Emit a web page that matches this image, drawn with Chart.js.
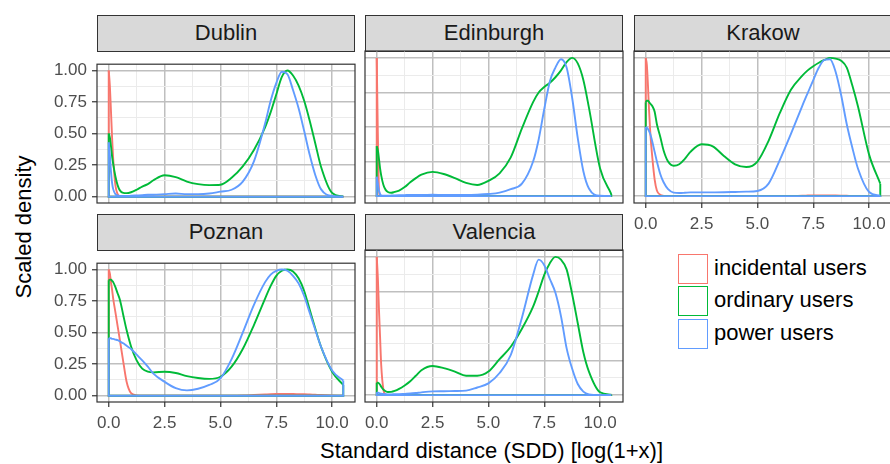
<!DOCTYPE html>
<html>
<head>
<meta charset="utf-8">
<script src="https://cdn.jsdelivr.net/npm/chart.js@4.4.1/dist/chart.umd.min.js"></script>
<style>
  body { margin: 0; width: 890px; height: 464px; background: #fff; position: relative; overflow: hidden;
         font-family: "Liberation Sans", Arial, sans-serif; }
  canvas { position: absolute; }
  .strip { position: absolute; box-sizing: border-box; height: 37px; background: #d9d9d9;
           border: 1.2px solid #333; color: #1a1a1a; font-size: 22px; text-align: center; line-height: 34px; }
  .title { position: absolute; color: #000; font-size: 22px; white-space: nowrap; }
  .key { position: absolute; left: 678px; width: 30px; height: 30px; box-sizing: border-box; border: 1.8px solid; background: #fff; }
  .lab { position: absolute; left: 714px; font-size: 22px; color: #000; line-height: 30px; white-space: nowrap; }
</style>
</head>
<body>
<div class="title" style="left:320px;top:438px">Standard distance (SDD) [log(1+x)]</div>
<div class="title" style="left:24px;top:227px;transform:translate(-50%,-50%) rotate(-90deg)">Scaled density</div>

<script>
// --- Data ---
const xs = [0, 0.05, 0.1, 0.15, 0.2, 0.3, 0.4, 0.5, 0.65, 0.8,
            1, 1.25, 1.5, 1.75, 2, 2.5, 3, 3.5, 4, 4.5,
            5, 5.5, 6, 6.5, 7, 7.25, 7.5, 7.75, 8, 8.25,
            8.5, 8.75, 9, 9.25, 9.5, 10, 10.5];

const groups = ["incidental users", "ordinary users", "power users"];
const colors = ["#F8766D", "#00BA38", "#619CFF"];
const cities = ["Dublin", "Edinburgh", "Krakow", "Poznan", "Valencia"];
const xTicks = [0, 2.5, 5, 7.5, 10];
const yTicks = [0, 0.25, 0.5, 0.75, 1];
const xMinor = [1.25, 3.75, 6.25, 8.75];
const yMinor = [0.125, 0.375, 0.625, 0.875];

const dublinIncidental = [1.0, 0.88, 0.68, 0.47, 0.3, 0.09, 0.02, 0.005, 0, 0,
  0, 0, 0, 0, 0, 0, 0, 0, 0, 0, 0, 0, 0, 0, 0, 0, 0, 0, 0, 0, 0, 0, 0, 0, 0, 0, 0];
const dublinOrdinary = [0.50, 0.47, 0.40, 0.32, 0.26, 0.16, 0.09, 0.05, 0.03, 0.028,
  0.035, 0.055, 0.08, 0.10, 0.13, 0.17, 0.155, 0.12, 0.10, 0.092,
  0.095, 0.15, 0.24, 0.37, 0.55, 0.67, 0.81, 0.95, 1.0, 0.96,
  0.88, 0.76, 0.6, 0.42, 0.24, 0.03, 0.0];
const dublinPower = [0.43, 0.33, 0.2, 0.11, 0.06, 0.02, 0.01, 0.005, 0.005, 0.005,
  0.008, 0.01, 0.012, 0.015, 0.015, 0.02, 0.025, 0.02, 0.02, 0.025,
  0.04, 0.055, 0.12, 0.28, 0.58, 0.76, 0.9, 0.99, 0.97, 0.845,
  0.7, 0.52, 0.33, 0.17, 0.06, 0.005, 0];

const edinburghIncidental = [1.0, 0.45, 0.05, 0, 0, 0, 0, 0, 0, 0,
  0, 0, 0, 0, 0, 0, 0, 0, 0, 0, 0, 0, 0, 0, 0, 0, 0, 0, 0, 0, 0, 0, 0, 0, 0, 0, 0];
const edinburghOrdinary = [0.36, 0.33, 0.27, 0.2, 0.15, 0.08, 0.045, 0.03, 0.024, 0.03,
  0.04, 0.065, 0.1, 0.13, 0.155, 0.175, 0.16, 0.13, 0.095, 0.08,
  0.11, 0.165, 0.28, 0.49, 0.68, 0.75, 0.79, 0.82, 0.86, 0.91,
  0.97, 1.0, 0.96, 0.84, 0.64, 0.2, 0.015];
const edinburghPower = [0.14, 0.09, 0.04, 0.015, 0.005, 0.003, 0.003, 0.003, 0.004, 0.005,
  0.006, 0.007, 0.008, 0.008, 0.008, 0.01, 0.008, 0.008, 0.008, 0.01,
  0.015, 0.025, 0.05, 0.09, 0.25, 0.41, 0.63, 0.83, 0.93, 0.99,
  0.93, 0.71, 0.42, 0.18, 0.055, 0.002, 0];

const krakowIncidental = [1.0, 0.95, 0.8, 0.62, 0.47, 0.27, 0.12, 0.04, 0.01, 0.002,
  0, 0, 0, 0, 0, 0, 0, 0, 0, 0, 0, 0, 0, 0, 0.003, 0.004, 0.005, 0.005, 0.005, 0.005,
  0.004, 0.003, 0.002, 0, 0, 0, 0];
const krakowOrdinary = [0.68, 0.69, 0.69, 0.68, 0.67, 0.65, 0.61, 0.52, 0.43, 0.33,
  0.25, 0.22, 0.23, 0.27, 0.32, 0.375, 0.36, 0.29, 0.23, 0.21,
  0.25, 0.4, 0.6, 0.77, 0.87, 0.91, 0.94, 0.965, 0.985, 1.0,
  0.995, 0.98, 0.93, 0.8, 0.65, 0.3, 0.09];
const krakowPower = [0.5, 0.495, 0.485, 0.47, 0.45, 0.39, 0.32, 0.25, 0.16, 0.1,
  0.05, 0.025, 0.022, 0.024, 0.027, 0.027, 0.027, 0.028, 0.03, 0.032,
  0.037, 0.09, 0.26, 0.45, 0.65, 0.745, 0.84, 0.93, 0.985, 0.99,
  0.9, 0.73, 0.52, 0.35, 0.2, 0.03, 0.003];

const poznanIncidental = [1.0, 0.97, 0.9, 0.84, 0.77, 0.66, 0.55, 0.44, 0.27, 0.11,
  0.02, 0.003, 0, 0, 0, 0, 0, 0, 0, 0, 0, 0, 0.002, 0.006, 0.01, 0.012, 0.013, 0.013, 0.013, 0.013,
  0.012, 0.011, 0.009, 0.007, 0.005, 0.002, 0];
const poznanOrdinary = [0.915, 0.92, 0.92, 0.91, 0.9, 0.86, 0.81, 0.76, 0.64, 0.52,
  0.39, 0.28, 0.215, 0.19, 0.185, 0.19, 0.18, 0.155, 0.14, 0.133,
  0.15, 0.23, 0.37, 0.56, 0.77, 0.87, 0.95, 0.99, 1.0, 0.985,
  0.93, 0.83, 0.68, 0.53, 0.39, 0.19, 0.085];
const poznanPower = [0.455, 0.455, 0.455, 0.45, 0.45, 0.445, 0.44, 0.43, 0.415, 0.395,
  0.37, 0.325, 0.28, 0.23, 0.175, 0.11, 0.06, 0.042, 0.055, 0.085,
  0.137, 0.29, 0.5, 0.72, 0.9, 0.96, 0.99, 1.0, 0.99, 0.95,
  0.89, 0.79, 0.655, 0.52, 0.39, 0.2, 0.12];

const valenciaIncidental = [1.0, 0.85, 0.62, 0.42, 0.22, 0.04, 0.005, 0, 0, 0,
  0, 0, 0, 0, 0, 0, 0, 0, 0, 0, 0, 0, 0, 0, 0, 0, 0, 0, 0, 0, 0, 0, 0, 0, 0, 0, 0];
const valenciaOrdinary = [0.09, 0.09, 0.085, 0.075, 0.06, 0.04, 0.028, 0.022, 0.023, 0.03,
  0.045, 0.07, 0.1, 0.14, 0.18, 0.21, 0.195, 0.17, 0.14, 0.14,
  0.17, 0.26, 0.35, 0.48, 0.64, 0.75, 0.87, 0.955, 1.0, 0.98,
  0.91, 0.73, 0.52, 0.31, 0.17, 0.02, 0.002];
const valenciaPower = [0.02, 0.018, 0.015, 0.012, 0.01, 0.008, 0.006, 0.005, 0.005, 0.006,
  0.007, 0.009, 0.011, 0.015, 0.02, 0.027, 0.028, 0.03, 0.032, 0.055,
  0.085, 0.16, 0.29, 0.56, 0.87, 0.98, 0.94, 0.84, 0.74, 0.57,
  0.34, 0.19, 0.08, 0.025, 0.005, 0, 0];

// --- Layout ---
const PW = 258, PH = 152, AXW = 60, AXH = 30;
const FONT = "'Liberation Sans', Arial, sans-serif";
const panels = [
  { series: [dublinIncidental, dublinOrdinary, dublinPower], left: 97, top: 51, yLab: true, xLab: false },
  { series: [edinburghIncidental, edinburghOrdinary, edinburghPower], left: 365, top: 51, yLab: false, xLab: false },
  { series: [krakowIncidental, krakowOrdinary, krakowPower], left: 634, top: 51, yLab: false, xLab: true },
  { series: [poznanIncidental, poznanOrdinary, poznanPower], left: 97, top: 250, yLab: true, xLab: true },
  { series: [valenciaIncidental, valenciaOrdinary, valenciaPower], left: 365, top: 250, yLab: false, xLab: true }
];

const isMajor = (v, step) => Math.abs(v / step - Math.round(v / step)) < 1e-6;

// panel border drawn over the lines
const borderPlugin = {
  id: "panelBorder",
  afterDatasetsDraw(chart) {
    const a = chart.chartArea, ctx = chart.ctx;
    ctx.save();
    ctx.strokeStyle = "#333333";
    ctx.lineWidth = 1.2;
    ctx.strokeRect(a.left, a.top, a.right - a.left, a.bottom - a.top);
    ctx.restore();
  }
};

function gridOpts(step, showTicks) {
  return {
    color: c => isMajor(c.tick.value, step) ? "#bfbfbf" : "#ebebeb",
    lineWidth: c => isMajor(c.tick.value, step) ? 1.5 : 1,
    drawTicks: showTicks,
    tickLength: 5,
    tickWidth: 1.2,
    tickColor: c => isMajor(c.tick.value, step) ? "#333333" : "rgba(0,0,0,0)"
  };
}

function makePanel(p, idx) {
  // strip
  const s = document.createElement("div");
  s.className = "strip";
  s.style.left = p.left + "px";
  s.style.top = (p.top - 36) + "px";
  s.style.width = PW + "px";
  s.textContent = cities[idx];
  document.body.appendChild(s);

  const c = document.createElement("canvas");
  c.width = AXW + PW + 2;
  c.height = PH + 2 + AXH;
  c.style.left = (p.left - AXW) + "px";
  c.style.top = (p.top - 2) + "px";
  document.body.appendChild(c);

  const xMax = xs[xs.length - 1];
  const datasets = [];
  // ggplot draws red, then green, then blue on top; Chart.js draws higher "order" first
  p.series.forEach((ys, i) => {
    datasets.push({
      data: ys.map((y, k) => ({ x: xs[k], y })),
      borderColor: colors[i], borderWidth: 1.9, pointRadius: 0, order: 10 - i,
      showLine: true, cubicInterpolationMode: "monotone"
    });
    datasets.push({
      data: [{ x: 0, y: ys[0] }, { x: 0, y: 0 }, { x: xMax, y: 0 }, { x: xMax, y: ys[ys.length - 1] }],
      borderColor: colors[i], borderWidth: 1.9, pointRadius: 0, order: 10 - i,
      showLine: true, tension: 0
    });
  });

  new Chart(c, {
    type: "scatter",
    data: { datasets },
    options: {
      responsive: false, animation: false, events: [],
      layout: { padding: { left: 0, top: 2, right: 2, bottom: 0 } },
      plugins: { legend: { display: false }, tooltip: { enabled: false } },
      scales: {
        x: {
          type: "linear", min: -0.525, max: 11.025,
          afterBuildTicks: a => { a.ticks = xTicks.concat(xMinor).sort((m, n) => m - n).map(v => ({ value: v })); },
          afterFit: a => { a.height = AXH; },
          border: { display: false },
          grid: gridOpts(2.5, p.xLab),
          ticks: {
            display: p.xLab, autoSkip: false, maxRotation: 0, padding: 6,
            color: "#4d4d4d", font: { family: FONT, size: 17 },
            callback: v => isMajor(v, 2.5) ? v.toFixed(1) : ""
          }
        },
        y: {
          type: "linear", min: -0.05, max: 1.05,
          afterBuildTicks: a => { a.ticks = yTicks.concat(yMinor).sort((m, n) => m - n).map(v => ({ value: v })); },
          afterFit: a => { a.width = AXW; },
          border: { display: false },
          grid: gridOpts(0.25, p.yLab),
          ticks: {
            display: p.yLab, autoSkip: false, padding: 5,
            color: "#4d4d4d", font: { family: FONT, size: 17 },
            callback: v => isMajor(v, 0.25) ? v.toFixed(2) : ""
          }
        }
      }
    },
    plugins: [borderPlugin]
  });
}

panels.forEach(makePanel);

// --- Legend ---
groups.forEach((g, i) => {
  const top = 254 + i * 32.3;
  const k = document.createElement("div");
  k.className = "key";
  k.style.top = top + "px";
  k.style.borderColor = colors[i];
  document.body.appendChild(k);
  const l = document.createElement("div");
  l.className = "lab";
  l.style.top = (top - 1) + "px";
  l.textContent = g;
  document.body.appendChild(l);
});
</script>
</body>
</html>
